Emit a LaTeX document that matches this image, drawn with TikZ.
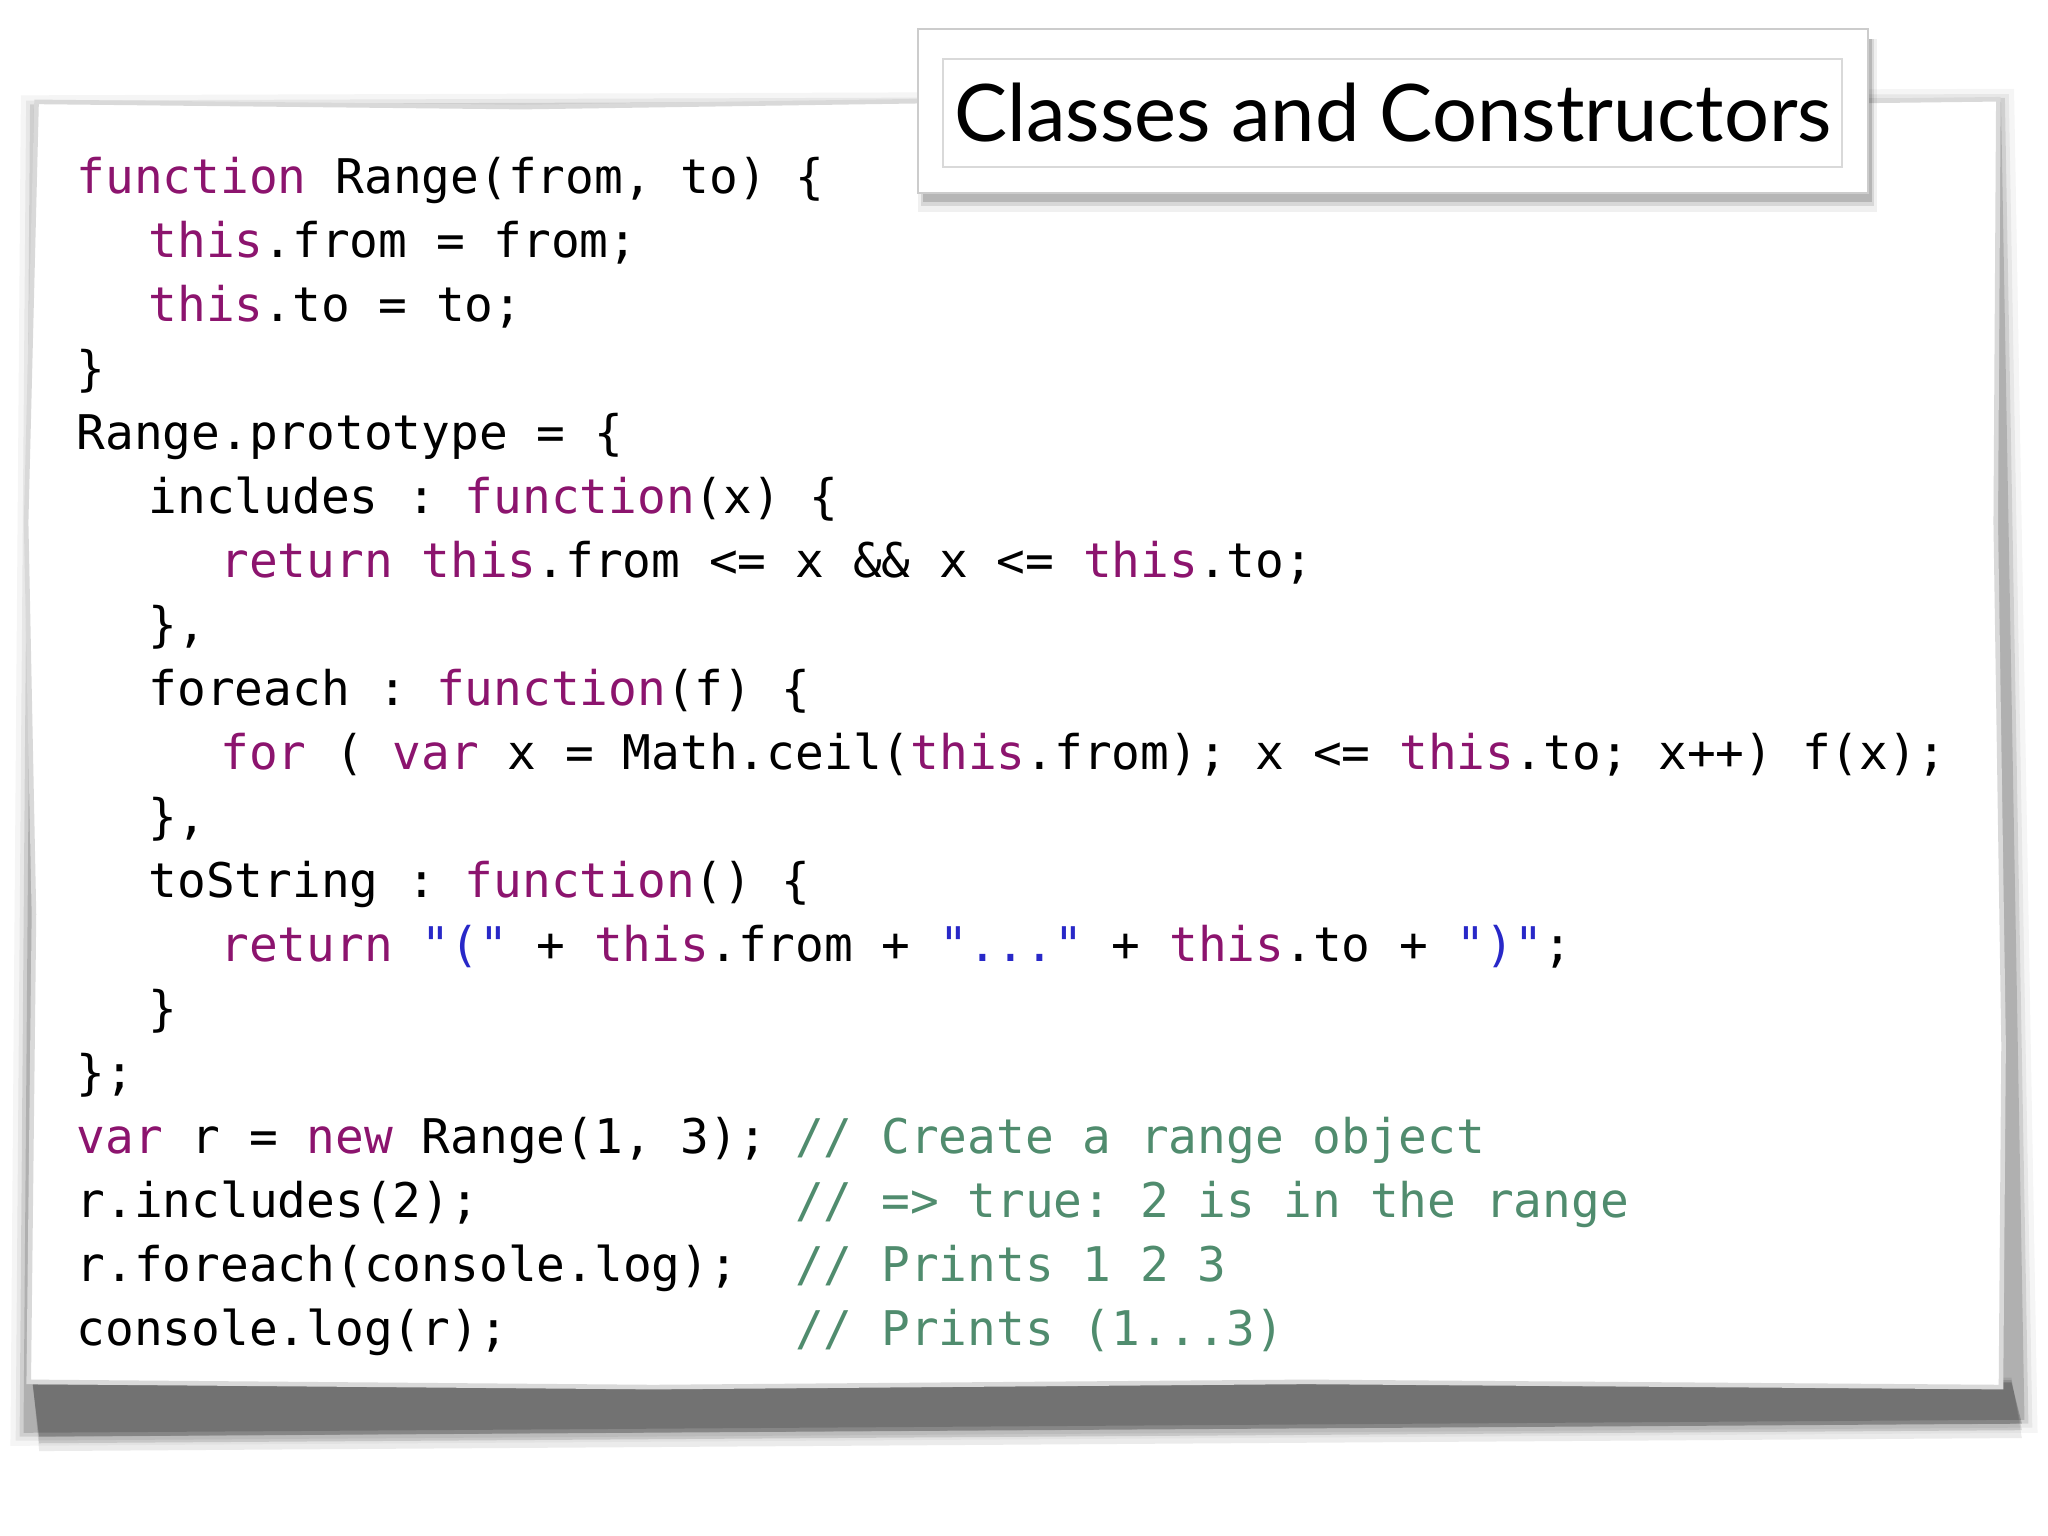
\documentclass[tikz,border=0pt]{standalone}
\usepackage{fontspec}
\setmainfont{Lato}
\setmonofont{DejaVu Sans Mono}
\definecolor{kw}{RGB}{140,20,110}
\definecolor{strc}{RGB}{40,40,200}
\definecolor{cmc}{RGB}{80,140,110}
\newcommand{\kw}[1]{\textcolor{kw}{#1}}
\newcommand{\stc}[1]{\textcolor{strc}{#1}}
\tikzset{codeline/.style={anchor=base west,inner sep=0pt,font=\ttfamily\fontsize{10.4}{12}\selectfont},
 cmt/.style={codeline,text=cmc}}
\begin{document}
\begin{tikzpicture}[x=0.01cm,y=-0.01cm]
\useasboundingbox (0,0) rectangle (1568,1176);
% paper shadow
\foreach \o/\a in {12/0.04,8/0.06,5/0.1,2/0.15}{
 \fill[black,opacity=\a] (28-\o,85-\o) -- (1530+\o,80-\o) -- (1548+\o,1085+\o) -- (20-\o,1095+\o) -- cycle;}
\foreach \o/\a in {16/0.08,10/0.12,5/0.2}{
 \fill[black,opacity=\a] (25,1062-\o/3) -- (1540,1060-\o/3) -- (1548,1085+\o) -- (30,1095+\o) -- cycle;}
% paper
\fill[white,draw=black!15,line width=1pt] (28,78) -- (400,82) -- (800,76) -- (1200,80) -- (1530,76) -- (1528,400) -- (1534,800) -- (1532,1062) -- (1000,1058) -- (500,1062) -- (22,1058) -- (26,700) -- (20,400) -- cycle;
% title box
\foreach \o/\a in {10/0.06,6/0.1,3/0.15}{\fill[black,opacity=\a] (708-\o/2,30) rectangle (1432+\o/2,152+\o);}
\fill[white,draw=black!20] (703,22) rectangle (1430,148);
\draw[black!15] (722,45) rectangle (1410,128);
\node[anchor=base west,inner sep=0pt,font=\fontsize{17.3}{20}\selectfont] (title) at (730,108) {Classes and Constructors};
% code
\node[codeline] (l0) at (58,148) {\kw{function} Range(from, to) \{};
\node[codeline] (l1) at (113,197) {\kw{this}.from = from;};
\node[codeline] (l2) at (113,246) {\kw{this}.to = to;};
\node[codeline] (l3) at (58,295) {\}};
\node[codeline] (l4) at (58,344) {Range.prototype = \{};
\node[codeline] (l5) at (113,393) {includes : \kw{function}(x) \{};
\node[codeline] (l6) at (168,442) {\kw{return} \kw{this}.from <= x \&\& x <= \kw{this}.to;};
\node[codeline] (l7) at (113,491) {\},};
\node[codeline] (l8) at (113,540) {foreach : \kw{function}(f) \{};
\node[codeline] (l9) at (168,589) {\kw{for} ( \kw{var} x = Math.ceil(\kw{this}.from); x <= \kw{this}.to; x++) f(x);};
\node[codeline] (l10) at (113,638) {\},};
\node[codeline] (l11) at (113,687) {toString : \kw{function}() \{};
\node[codeline] (l12) at (168,736) {\kw{return} \stc{"("} + \kw{this}.from + \stc{"..."} + \kw{this}.to + \stc{")"};};
\node[codeline] (l13) at (113,785) {\}};
\node[codeline] (l14) at (58,834) {\};};
\node[codeline] (l15) at (58,883) {\kw{var} r = \kw{new} Range(1, 3);};
\node[codeline] (l16) at (58,932) {r.includes(2);};
\node[codeline] (l17) at (58,981) {r.foreach(console.log);};
\node[codeline] (l18) at (58,1030) {console.log(r);};
\node[cmt] (c15) at (608,883) {// Create a range object};
\node[cmt] (c16) at (608,932) {// => true: 2 is in the range};
\node[cmt] (c17) at (608,981) {// Prints 1 2 3};
\node[cmt] (c18) at (608,1030) {// Prints (1...3)};
\end{tikzpicture}
\end{document}
